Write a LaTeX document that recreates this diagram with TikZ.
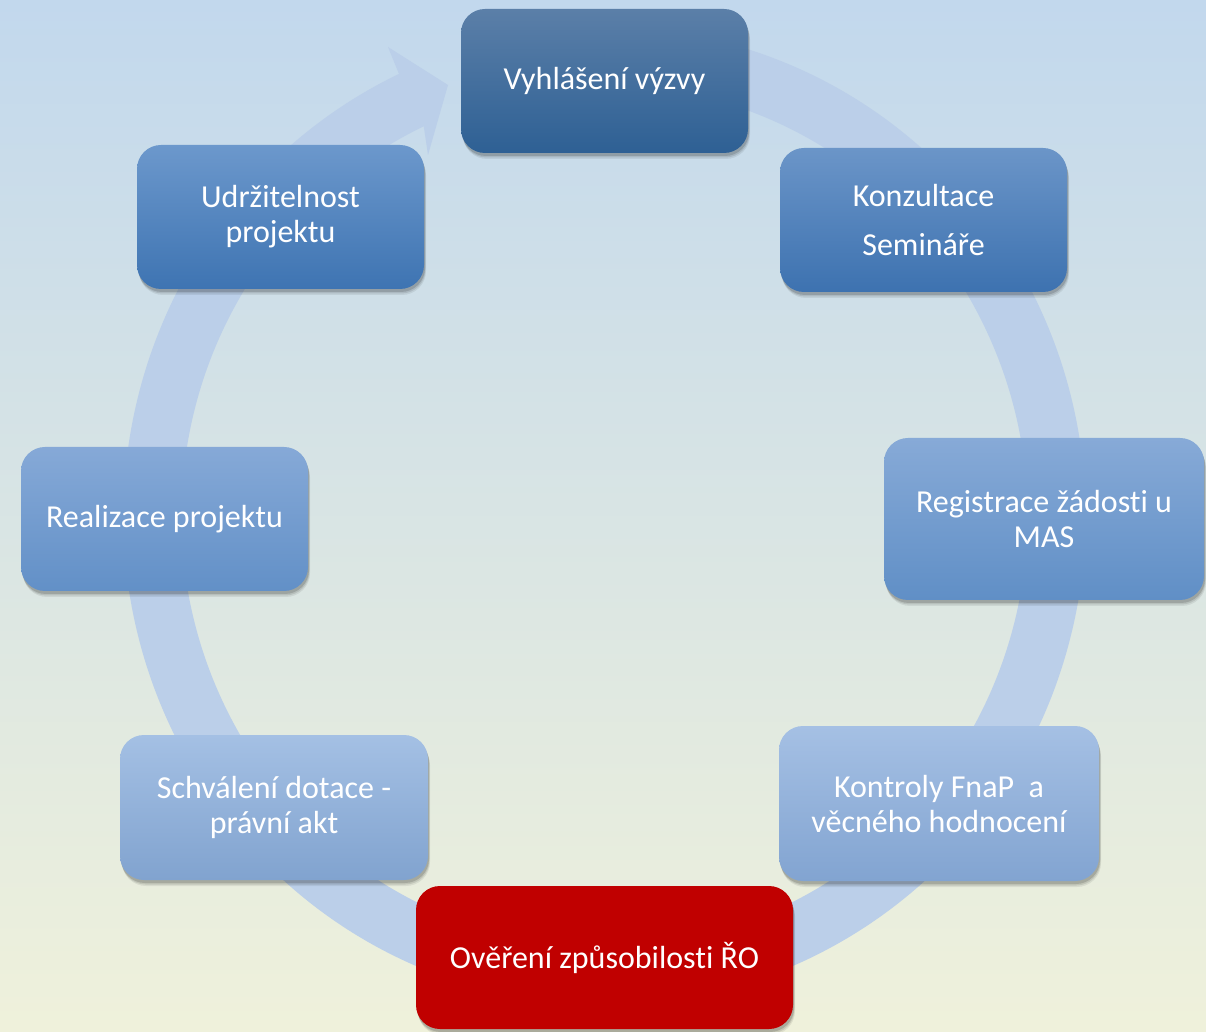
\documentclass[tikz,border=0pt]{standalone}
\usepackage{fontspec}
\setmainfont{Carlito}[Ligatures={NoCommon}]
\usetikzlibrary{shadows,calc}
\newcommand{\tiNL}{t\kern0pt i}
\definecolor{bgtop}{HTML}{C2D8ED}
\definecolor{bgbot}{HTML}{EFF1DB}
\definecolor{bandcol}{HTML}{BBCFE9}
\definecolor{redbox}{HTML}{C00000}
\definecolor{c1t}{HTML}{5B7FA8}\definecolor{c1b}{HTML}{2E6094}
\definecolor{c2t}{HTML}{6B95C8}\definecolor{c2b}{HTML}{3D72B0}
\definecolor{c3t}{HTML}{87AAD7}\definecolor{c3b}{HTML}{608FC6}
\definecolor{c4t}{HTML}{A5C0E4}\definecolor{c4b}{HTML}{82A4D1}
\definecolor{c6t}{HTML}{A4C0E4}\definecolor{c6b}{HTML}{81A3CF}
\definecolor{c7t}{HTML}{86A9D7}\definecolor{c7b}{HTML}{6290C7}
\definecolor{c8t}{HTML}{6C98CC}\definecolor{c8b}{HTML}{3E74B2}
\begin{document}
\begin{tikzpicture}[x=1pt,y=1pt,
  stepbox/.style={rounded corners=24pt, inner sep=0pt, align=center, text=white,
    font=\fontsize{32}{35}\selectfont,
    general shadow={shadow xshift=2pt, shadow yshift=-6pt, fill=black, opacity=0.07},
    general shadow={shadow xshift=1.5pt, shadow yshift=-4.5pt, fill=black, opacity=0.10},
    general shadow={shadow xshift=1pt, shadow yshift=-3pt, fill=black, opacity=0.14}},
  bx/.style n args={2}{minimum width=#1, minimum height=#2},
  grad/.style n args={2}{top color=#1, bottom color=#2}]
\fill[top color=bgtop, bottom color=bgbot] (0,0) rectangle (1206,1031);
\useasboundingbox (0,0) rectangle (1206,1031);

% circular arrow
\coordinate (C) at (604.5,515);
\coordinate (hO) at (388,984);
\coordinate (hT) at (448,946);
\coordinate (hI) at (428,876);
\fill[bandcol] ($(C)+(75:481 and 489)$) arc[start angle=75, end angle=-244.7, x radius=481, y radius=489]
  -- (hO) -- (hT) -- (hI)
  -- ($(C)+(-244.7:423 and 431)$) arc[start angle=-244.7, end angle=75, x radius=423, y radius=431] -- cycle;

% boxes
\node[stepbox, bx={287}{144}, grad={c1t}{c1b}] (v1) at (604.5,950) {Vyhlášení výzvy};
\node[stepbox, bx={287}{144}, grad={c2t}{c2b}] (v2) at (923.5,811) {Konzultace\\[14pt]Semináře};
\node[stepbox, bx={320}{162}, grad={c3t}{c3b}] (v3) at (1044,512) {Registrace žádos\tiNL\ u\\MAS};
\node[stepbox, bx={320}{155}, grad={c4t}{c4b}] (v4) at (939,227.5) {Kontroly FnaP\ \ a\\věcného hodnocení};
\node[stepbox, bx={377}{143}, fill=redbox] (v5) at (604.5,73.5) {Ověření způsobilos\tiNL\ ŘO};
\node[stepbox, bx={308}{145}, grad={c6t}{c6b}] (v6) at (274,223.5) {Schválení dotace -\\právní akt};
\node[stepbox, bx={287}{144}, grad={c7t}{c7b}] (v7) at (164.5,512) {Realizace projektu};
\node[stepbox, bx={287}{144}, grad={c8t}{c8b}] (v8) at (280.5,814) {Udržitelnost\\projektu};
\end{tikzpicture}
\end{document}
